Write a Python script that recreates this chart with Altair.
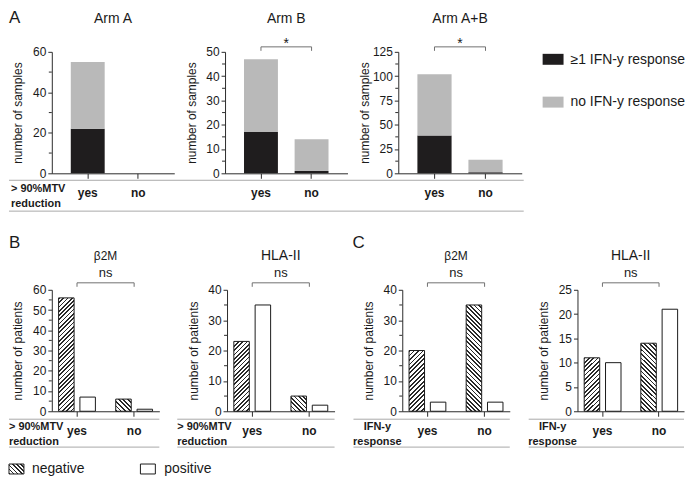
import math
import altair as alt
import pandas as pd

FONT = "Liberation Sans"
INK = "#1a1a1a"
AXIS = "#2b2b2b"
LINE_GRAY = "#a8a8a8"
BRACKET = "#707070"
BLACK_BAR = "#1f1d1e"
GRAY_BAR = "#b9b9b9"

# ---------------- Panel A data ----------------
arm_titles = ["Arm A", "Arm B", "Arm A+B"]
mtv = ["yes", "no"]
resp_labels = ["≥1 IFN-y response", "no IFN-y response"]
ifn_pos_counts = [[22, 0], [17, 1], [39, 1]]
ifn_neg_counts = [[33, 0], [30, 13], [63, 13]]
arm_ymax = [60, 50, 125]
arm_major = [[0, 20, 40, 60], [0, 10, 20, 30, 40, 50], [0, 25, 50, 75, 100, 125]]
arm_minor = [[10, 30, 50], [5, 15, 25, 35, 45], [12.5, 37.5, 62.5, 87.5, 112.5]]
arm_sig = ["", "*", "*"]

# ---------------- Panels B / C data ----------------
status = ["negative", "positive"]
bc_titles = ["β2M", "HLA-II", "β2M", "HLA-II"]
bc_title_size = [12, 14, 12, 14]
bc_neg = [[56, 6], [23, 5], [20, 35], [11, 14]]
bc_pos = [[7, 1], [35, 2], [3, 3], [10, 21]]
bc_ymax = [60, 40, 40, 25]
bc_major = [[0, 10, 20, 30, 40, 50, 60], [0, 10, 20, 30, 40], [0, 10, 20, 30, 40], [0, 5, 10, 15, 20, 25]]
bc_minor = [[5, 15, 25, 35, 45, 55], [5, 15, 25, 35], [5, 15, 25, 35], []]
bc_sig = ["ns", "ns", "ns", "ns"]
bc_row_label = [["> 90%MTV", "reduction"], ["> 90%MTV", "reduction"], ["IFN-y", "response"], ["IFN-y", "response"]]

# ---------------- layout ----------------
H1 = 122
W1 = [123, 123, 124]
H2 = 122
W2 = [108, 108, 108, 107]
PI_A, PO_A = 0.33, 0.375
PI, PO, PIO = 0.356, 0.119, 0.273


def hatch(w, h, direction, period=3.1, frac=0.4, dark="#2a2a2a", light="#ffffff"):
    w = max(w, 1.0)
    h = max(h, 1.0)
    k = (w + h) / (w * w + h * h)
    n = max(1, round((w + h) / math.sqrt(2) / period))
    stops = []
    for i in range(n):
        a = round(i / n, 5)
        b = round((i + frac) / n, 5)
        c = round((i + 1) / n, 5)
        stops += [{"offset": a, "color": dark}, {"offset": b, "color": dark},
                  {"offset": b, "color": light}, {"offset": c, "color": light}]
    if direction == "/":
        coords = dict(x1=0, y1=0, x2=k * w, y2=k * h)
    else:
        coords = dict(x1=0, y1=1, x2=k * w, y2=1 - k * h)
    g = {"gradient": "linear", "stops": stops}
    g.update(coords)
    return g


def one():
    return pd.DataFrame({"a": [0]})


def txt(s, x, y, size=12, weight="normal", align="left", baseline="middle", color=INK):
    return alt.Chart(pd.DataFrame({"t": [s]})).mark_text(
        align=align, baseline=baseline, fontSize=size, fontWeight=weight, font=FONT, color=color
    ).encode(text="t:N", x=alt.value(x), y=alt.value(y))


def hline(x1, x2, y, color=LINE_GRAY, width=1.0):
    return alt.Chart(one()).mark_rule(color=color, strokeWidth=width).encode(
        x=alt.value(x1), x2=alt.value(x2), y=alt.value(y))


def swatch(x1, x2, y1, y2, fill, stroke=None):
    kw = dict(fill=fill)
    if stroke:
        kw.update(stroke=stroke, strokeWidth=1)
    return alt.Chart(one()).mark_rect(**kw).encode(
        x=alt.value(x1), x2=alt.value(x2), y=alt.value(y1), y2=alt.value(y2))


def y_axis(values, title, H):
    return alt.Axis(values=values, title=title, titleX=-27, titleY=H / 2, titleAngle=270,
                    titleBaseline="bottom", titleFontSize=12, titleFontWeight="normal",
                    titleColor=INK, titleFont=FONT, labelFontSize=12, labelFont=FONT,
                    labelColor=INK, labelPadding=2, tickSize=4, tickColor=AXIS,
                    domainColor=AXIS, grid=False, labelOverlap=False)


def x_axis():
    return alt.Axis(title=None, labelAngle=0, labelFontWeight="bold", labelFontSize=12,
                    labelFont=FONT, labelColor=INK, labelPadding=9, tickSize=5,
                    tickColor=AXIS, domainColor=AXIS, grid=False)


def bracket(xscale, xaxis, sig, y_top, y_leg, text_y, size, W):
    d = pd.DataFrame({"g": mtv})
    xenc = alt.X("g:N", scale=xscale, axis=xaxis, sort=mtv)
    horiz = alt.Chart(d).mark_line(color=BRACKET, strokeWidth=1).encode(x=xenc, y=alt.value(y_top))
    legs = alt.Chart(d).mark_rule(color=BRACKET, strokeWidth=1).encode(
        x=xenc, y=alt.value(y_top), y2=alt.value(y_leg))
    lab = txt(sig, W / 2, text_y, size=size, align="center")
    return [horiz, legs, lab]


def minor_ticks(vals, yscale, yaxis):
    if not vals:
        return []
    return [alt.Chart(pd.DataFrame({"v": vals})).mark_rule(color=AXIS, strokeWidth=1).encode(
        y=alt.Y("v:Q", scale=yscale, axis=yaxis), x=alt.value(-3), x2=alt.value(0))]


# ---------------- Row 1 (panel A) ----------------
row1 = []
for i, arm in enumerate(arm_titles):
    W = W1[i]
    rows = []
    for j, g in enumerate(mtv):
        rows.append({"g": g, "r": resp_labels[0], "k": 0, "v": ifn_pos_counts[i][j]})
        rows.append({"g": g, "r": resp_labels[1], "k": 1, "v": ifn_neg_counts[i][j]})
    df = pd.DataFrame(rows)
    xs = alt.Scale(type="band", domain=mtv, paddingInner=PI_A, paddingOuter=PO_A)
    ys = alt.Scale(domain=[0, arm_ymax[i]], nice=False, zero=True)
    xa = x_axis()
    ya = y_axis(arm_major[i], "number of samples", H1)
    bars = alt.Chart(df).mark_bar().encode(
        x=alt.X("g:N", scale=xs, axis=xa, sort=mtv),
        y=alt.Y("v:Q", stack="zero", scale=ys, axis=ya),
        color=alt.Color("r:N", scale=alt.Scale(domain=resp_labels, range=[BLACK_BAR, GRAY_BAR]), legend=None),
        order=alt.Order("k:Q"),
    )
    layers = [bars] + minor_ticks(arm_minor[i], ys, ya)
    layers.append(txt(arm, W / 2, -29, size=14, align="center", baseline="alphabetic"))
    if arm_sig[i]:
        layers += bracket(xs, xa, arm_sig[i], -5, -1, -8, 14, W)
    if i == 0:
        layers.append(txt("A", -43, -42, size=17, baseline="top"))
        total = W1[0] + W1[1] + W1[2] + 2 * 51 + 2
        layers.append(hline(-43, total, H1 + 7))
        layers.append(hline(-43, total, H1 + 38))
        layers.append(txt("> 90%MTV", -41, H1 + 16, size=11, weight="bold"))
        layers.append(txt("reduction", -41, H1 + 31, size=11, weight="bold"))
    if i == 2:
        layers.append(swatch(145, 166, 2, 13, BLACK_BAR))
        layers.append(swatch(145, 166, 45, 56, GRAY_BAR))
        layers.append(txt(resp_labels[0], 173, 8, size=14))
        layers.append(txt(resp_labels[1], 173, 50, size=14))
    row1.append(alt.layer(*layers).properties(width=W, height=H1))

# ---------------- Row 2 (panels B, C) ----------------
row2 = []
for i in range(4):
    W = W2[i]
    ymax = bc_ymax[i]
    step = W / (2 - PI + 2 * PO)
    bw = step * (1 - PI)
    so = bw / (2 - PIO)
    bwo = so * (1 - PIO)
    xs = alt.Scale(type="band", domain=mtv, paddingInner=PI, paddingOuter=PO)
    xo = alt.Scale(type="band", domain=status, paddingInner=PIO, paddingOuter=0)
    ys = alt.Scale(domain=[0, ymax], nice=False, zero=True)
    xa = x_axis()
    ya = y_axis(bc_major[i], "number of patients", H2)
    dpos = pd.DataFrame({"g": mtv, "s": ["positive"] * 2, "v": bc_pos[i]})
    pos = alt.Chart(dpos).mark_bar(fill="white", stroke=INK, strokeWidth=1).encode(
        x=alt.X("g:N", scale=xs, axis=xa, sort=mtv),
        xOffset=alt.XOffset("s:N", scale=xo, sort=status),
        y=alt.Y("v:Q", scale=ys, axis=ya),
    )
    layers = [pos]
    for j, g in enumerate(mtv):
        v = bc_neg[i][j]
        h = v / ymax * H2
        grad = hatch(bwo, h, "/" if g == "yes" else "\\")
        dneg = pd.DataFrame({"g": [g], "s": ["negative"], "v": [v]})
        layers.append(alt.Chart(dneg).mark_bar(fill=grad, stroke=INK, strokeWidth=1).encode(
            x=alt.X("g:N", scale=xs, axis=xa, sort=mtv),
            xOffset=alt.XOffset("s:N", scale=xo, sort=status),
            y=alt.Y("v:Q", scale=ys, axis=ya),
        ))
    layers += minor_ticks(bc_minor[i], ys, ya)
    layers.append(txt(bc_titles[i], W / 2, -30, size=bc_title_size[i], align="center", baseline="alphabetic"))
    layers += bracket(xs, xa, bc_sig[i], -7, -3, -17, 13, W)
    left = -43 if i == 0 else (-50 if i == 1 else -49)
    layers.append(hline(left, W, H2 + 8))
    layers.append(hline(left, W, H2 + 36))
    lab1, lab2 = bc_row_label[i]
    if i < 2:
        layers.append(txt(lab1, left, H2 + 16, size=11, weight="bold"))
        layers.append(txt(lab2, left, H2 + 31, size=11, weight="bold"))
    else:
        layers.append(txt(lab1, -25, H2 + 16, size=11, weight="bold", align="center"))
        layers.append(txt(lab2, -25, H2 + 31, size=11, weight="bold", align="center"))
    if i == 0:
        layers.append(txt("B", -43, -42, size=17, baseline="alphabetic"))
        layers.append(swatch(-43, -28, H2 + 53, H2 + 63, hatch(15, 10, "\\"), stroke=INK))
        layers.append(txt("negative", -20, H2 + 58, size=14))
        layers.append(swatch(89, 104, H2 + 53, H2 + 63, "white", stroke=INK))
        layers.append(txt("positive", 113, H2 + 58, size=14))
    if i == 2:
        layers.append(txt("C", -50, -42, size=17, baseline="alphabetic"))
    row2.append(alt.layer(*layers).properties(width=W, height=H2))

r1 = alt.hconcat(*row1, spacing=51, bounds="flush")
r2 = alt.hconcat(*row2, spacing=68, bounds="flush")

chart = alt.vconcat(r1, r2, spacing=22).properties(
    padding=0
).configure_view(stroke=None)

chart.save("out.html", embed_options={"renderer": "svg", "actions": False})
